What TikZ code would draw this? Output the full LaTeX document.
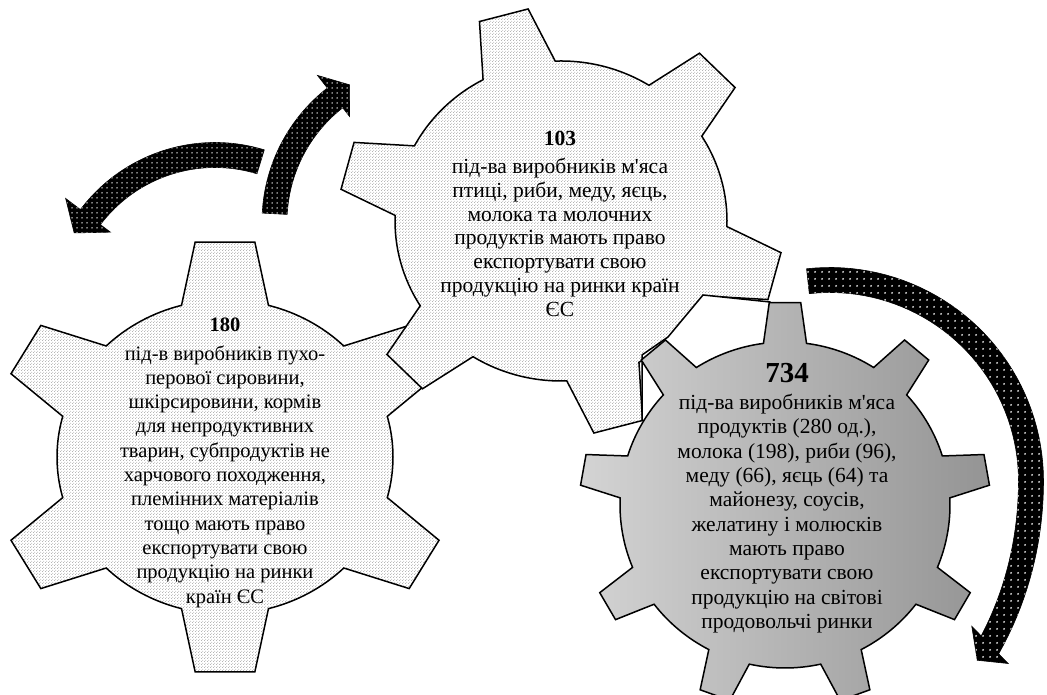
\documentclass[tikz,border=0pt]{standalone}
\usepackage{fontspec}
\setmainfont{Liberation Serif}[Ligatures=TeXOff]
\usetikzlibrary{patterns}

\pgfdeclarepatternformonly{geardots}{\pgfqpoint{0pt}{0pt}}{\pgfqpoint{3pt}{3pt}}{\pgfqpoint{3pt}{3pt}}{%
  \pgfpathcircle{\pgfqpoint{0.75pt}{0.75pt}}{0.5pt}%
  \pgfpathcircle{\pgfqpoint{2.25pt}{2.25pt}}{0.5pt}%
  \pgfusepath{fill}}
\pgfdeclarepatternformonly{arrowdotsS}{\pgfqpoint{0pt}{0pt}}{\pgfqpoint{5pt}{5pt}}{\pgfqpoint{5pt}{5pt}}{%
  \pgfpathcircle{\pgfqpoint{2.5pt}{2.5pt}}{0.9pt}%
  \pgfusepath{fill}}
\pgfdeclarepatternformonly{arrowdotsL}{\pgfqpoint{0pt}{0pt}}{\pgfqpoint{7pt}{7pt}}{\pgfqpoint{7pt}{7pt}}{%
  \pgfpathcircle{\pgfqpoint{3.5pt}{3.5pt}}{1.1pt}%
  \pgfusepath{fill}}

% #1 teeth list, #2 first tooth, #3 pitch, #4 outer R, #5 tip half angle, #6 base half angle
\newcommand{\GearPath}[6]{%
  ({#2-#6}:1) \foreach \ang in {#1} { -- ({\ang-#6}:1) -- ({\ang-#5}:#4) -- ({\ang+#5}:#4) -- ({\ang+#6}:1)
    arc[start angle={\ang+#6}, end angle={\ang+#3-#6}, radius=1] } -- cycle}

\tikzset{
  gearline/.style={draw=black, line width=1.5pt, line join=miter},
  dotfill/.style={preaction={fill=white}, pattern=geardots, pattern color=black!50},
  greyfill/.style={left color=black!17, right color=black!42},
  arrowS/.style={draw=black, line width=0.6pt, fill=black, postaction={pattern=arrowdotsS, pattern color=white}},
  arrowL/.style={draw=black, line width=0.6pt, fill=black, postaction={pattern=arrowdotsL, pattern color=white}},
  gtext/.style={align=center, inner sep=0pt, text=black}
}

\begin{document}
\begin{tikzpicture}[x=1pt,y=1pt]
\useasboundingbox (0,0) rectangle (1047,695);
\fill[white] (0,0) rectangle (1047,695);

% curved arrow, left (pointing down-left)
\begin{scope}[shift={(215,384)}]
  \path[arrowS] (73:168.5) arc[start angle=73, end angle=143, radius=168.5]
    -- (143:187) -- (151:161) -- (143:131) -- (143:143.5)
    arc[start angle=143, end angle=73, radius=143.5] -- cycle;
\end{scope}

% curved arrow, up-right
\begin{scope}[shift={(432,473)}]
  \path[arrowS] (177:170) arc[start angle=177, end angle=128, radius=170]
    -- (128:186) -- (121:160) -- (128:134) -- (128:145)
    arc[start angle=128, end angle=177, radius=145] -- cycle;
\end{scope}

% big right arrow
\begin{scope}[shift={(830,214)}]
  \path[arrowL] plot[domain=96.3:-45.7, samples=60]
      ({(213.5+0.0134*min(\x,0)*min(\x,0))*cos(\x)}, {(213.5+0.0134*min(\x,0)*min(\x,0))*sin(\x)})
    -- (-45.7:255) -- (-50.6:232) -- (-45.7:203)
    -- plot[domain=-45.7:96.3, samples=60]
      ({(188.5+0.0134*min(\x,0)*min(\x,0))*cos(\x)}, {(188.5+0.0134*min(\x,0)*min(\x,0))*sin(\x)})
    -- cycle;
\end{scope}

% gear 1 (left)
\begin{scope}[shift={(225,238)}, xscale=168, yscale=157]
  \path[gearline, dotfill] \GearPath{30,90,150,210,270,330}{30}{60}{1.38}{7.4}{15};
\end{scope}

% gear 2 (middle top)
\begin{scope}[shift={(561,474)}, xscale=166, yscale=160]
  \path[gearline, dotfill] \GearPath{45,105,165,225,285,345}{45}{60}{1.34}{6.5}{13};
\end{scope}

% white piece between gear 2 and gear 3
\path[gearline, fill=white] (642,275) -- (642,340) -- (668,358) -- (703,400) -- (770,393)
  -- (790,315) -- (700,255) -- cycle;

% gear 3 (right, grey)
\begin{scope}[shift={(785,190)}, xscale=165, yscale=163]
  \path[gearline, greyfill] \GearPath{10,50,90,130,170,210,250,290,330}{10}{40}{1.245}{4.4}{7.5};
\end{scope}

% texts
\node[gtext, font=\fontsize{20.5}{24.3}\selectfont] (t180) at (225,232.5)
  {{\bfseries 180}\\[4.6pt]
   під-в виробників пухо-\\
   перової сировини,\\
   шкірсировини, кормів\\
   для непродуктивних\\
   тварин, субпродуктів не\\
   харчового походження,\\
   племінних матеріалів\\
   тощо мають право\\
   експортувати свою\\
   продукцію на ринки\\
   країн ЄС};

\node[gtext, font=\fontsize{21.5}{23.8}\selectfont] (t103) at (560,471)
  {{\bfseries 103}\\[4pt]
   під-ва виробників м'яса\\
   птиці, риби, меду, яєць,\\
   молока та молочних\\
   продуктів мають право\\
   експортувати свою\\
   продукцію на ринки країн\\
   ЄС};

\node[gtext, font=\fontsize{21.5}{24.3}\selectfont] (t734) at (787,197)
  {{\fontsize{29}{30}\selectfont\bfseries 734}\\[3pt]
   під-ва виробників м'яса\\
   продуктів (280 од.),\\
   молока (198), риби (96),\\
   меду (66), яєць (64) та\\
   майонезу, соусів,\\
   желатину і молюсків\\
   мають право\\
   експортувати свою\\
   продукцію на світові\\
   продовольчі ринки};
\end{tikzpicture}
\end{document}
